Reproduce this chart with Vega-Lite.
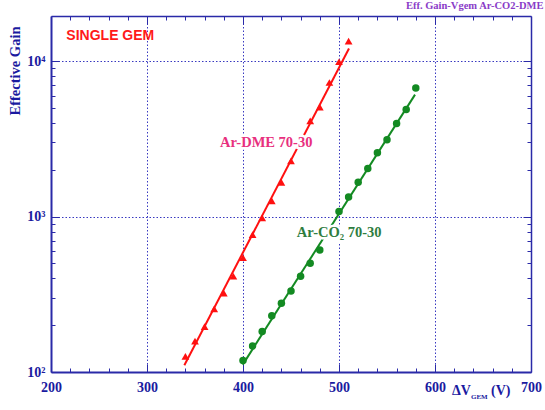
{
  "$schema": "https://vega.github.io/schema/vega-lite/v6.json",
  "width": 480,
  "height": 356,
  "autosize": {"type": "none"},
  "padding": {"left": 51, "top": 16, "right": 14, "bottom": 38},
  "background": "white",
  "title": {"text": "Eff. Gain-Vgem Ar-CO2-DME", "anchor": "end", "font": "Liberation Serif", "fontSize": 10.5, "fontWeight": "bold", "color": "#8a3cc8", "offset": 4, "dx": 2},
  "config": {"view": {"stroke": null}},
  "datasets": {
    "pts": [
      {"gas": "Ar-DME 70-30", "V": 340, "gain": 126},
      {"gas": "Ar-DME 70-30", "V": 350, "gain": 158},
      {"gas": "Ar-DME 70-30", "V": 360, "gain": 196},
      {"gas": "Ar-DME 70-30", "V": 370, "gain": 255},
      {"gas": "Ar-DME 70-30", "V": 380, "gain": 322},
      {"gas": "Ar-DME 70-30", "V": 390, "gain": 413},
      {"gas": "Ar-DME 70-30", "V": 400, "gain": 544},
      {"gas": "Ar-DME 70-30", "V": 410, "gain": 764},
      {"gas": "Ar-DME 70-30", "V": 420, "gain": 981},
      {"gas": "Ar-DME 70-30", "V": 430, "gain": 1263},
      {"gas": "Ar-DME 70-30", "V": 440, "gain": 1660},
      {"gas": "Ar-DME 70-30", "V": 450, "gain": 2280},
      {"gas": "Ar-DME 70-30", "V": 470, "gain": 4121},
      {"gas": "Ar-DME 70-30", "V": 480, "gain": 5060},
      {"gas": "Ar-DME 70-30", "V": 490, "gain": 7280},
      {"gas": "Ar-DME 70-30", "V": 500, "gain": 9900},
      {"gas": "Ar-DME 70-30", "V": 510, "gain": 13450},
      {"gas": "Ar-CO2 70-30", "V": 400, "gain": 118.5},
      {"gas": "Ar-CO2 70-30", "V": 410, "gain": 147},
      {"gas": "Ar-CO2 70-30", "V": 420, "gain": 182},
      {"gas": "Ar-CO2 70-30", "V": 430, "gain": 230},
      {"gas": "Ar-CO2 70-30", "V": 440, "gain": 277},
      {"gas": "Ar-CO2 70-30", "V": 450, "gain": 332},
      {"gas": "Ar-CO2 70-30", "V": 460, "gain": 413},
      {"gas": "Ar-CO2 70-30", "V": 470, "gain": 500},
      {"gas": "Ar-CO2 70-30", "V": 480, "gain": 610},
      {"gas": "Ar-CO2 70-30", "V": 500, "gain": 1076},
      {"gas": "Ar-CO2 70-30", "V": 510, "gain": 1334},
      {"gas": "Ar-CO2 70-30", "V": 520, "gain": 1660},
      {"gas": "Ar-CO2 70-30", "V": 530, "gain": 2036},
      {"gas": "Ar-CO2 70-30", "V": 540, "gain": 2573},
      {"gas": "Ar-CO2 70-30", "V": 550, "gain": 3124},
      {"gas": "Ar-CO2 70-30", "V": 560, "gain": 3968},
      {"gas": "Ar-CO2 70-30", "V": 570, "gain": 4890},
      {"gas": "Ar-CO2 70-30", "V": 580, "gain": 6715}
    ],
    "fit": [
      {"gas": "Ar-DME 70-30", "V": 338.9, "gain": 110.4},
      {"gas": "Ar-DME 70-30", "V": 510.4, "gain": 12035},
      {"gas": "Ar-CO2 70-30", "V": 399.7, "gain": 111.5},
      {"gas": "Ar-CO2 70-30", "V": 579.2, "gain": 6083}
    ]
  },
  "resolve": {"axis": {"x": "independent", "y": "independent"}},
  "layer": [
    {
      "data": {"name": "fit"},
      "mark": {"type": "line", "strokeWidth": 2},
      "encoding": {
        "x": {"field": "V", "type": "quantitative", "scale": {"domain": [200, 700], "nice": false},
          "axis": {"orient": "top", "values": [200,220,240,260,280,300,320,340,360,380,400,420,440,460,480,500,520,540,560,580,600,620,640,660,680,700],
            "labels": false, "grid": false, "title": null, "domainColor": "#2a2aa8", "domainWidth": 1.5, "tickColor": "#2a2aa8", "tickWidth": 1,
            "tickSize": {"condition": {"test": "datum.value % 100 === 0", "value": -8}, "value": -4}}},
        "y": {"field": "gain", "type": "quantitative", "scale": {"type": "log", "domain": [100, 19500], "nice": false},
          "axis": {"orient": "right", "values": [100,200,300,400,500,600,700,800,900,1000,2000,3000,4000,5000,6000,7000,8000,9000,10000],
            "labels": false, "grid": false, "title": null, "domainColor": "#2a2aa8", "domainWidth": 1.5, "tickColor": "#2a2aa8", "tickWidth": 1,
            "tickSize": {"condition": {"test": "datum.value === 100 || datum.value === 1000 || datum.value === 10000", "value": -8}, "value": -4}}},
        "color": {"field": "gas", "type": "nominal", "scale": {"domain": ["Ar-DME 70-30", "Ar-CO2 70-30"], "range": ["#ff1010", "#138a22"]}, "legend": null}
      }
    },
    {
      "data": {"name": "pts"},
      "mark": {"type": "point", "filled": true, "opacity": 1},
      "encoding": {
        "x": {"field": "V", "type": "quantitative", "scale": {"domain": [200, 700], "nice": false},
          "axis": {"orient": "bottom", "values": [200,220,240,260,280,300,320,340,360,380,400,420,440,460,480,500,520,540,560,580,600,620,640,660,680,700],
            "labelExpr": "datum.value % 100 === 0 ? datum.value : ''",
            "labelFont": "Liberation Serif", "labelFontWeight": "bold", "labelFontSize": 14, "labelColor": "#1a1aa0", "labelPadding": 16,
            "labelFlush": false, "labelOverlap": false,
            "title": null, "domainColor": "#2a2aa8", "domainWidth": 2, "tickColor": "#2a2aa8", "tickWidth": 1,
            "tickSize": {"condition": {"test": "datum.value % 100 === 0", "value": -8}, "value": -4},
            "grid": true, "gridColor": "#3838c0", "gridDash": [1.5, 2], "gridWidth": 1,
            "gridOpacity": {"condition": {"test": "datum.value % 100 === 0 && datum.value > 200 && datum.value < 700", "value": 1}, "value": 0}}},
        "y": {"field": "gain", "type": "quantitative", "scale": {"type": "log", "domain": [100, 19500], "nice": false},
          "axis": {"orient": "left", "values": [100,200,300,400,500,600,700,800,900,1000,2000,3000,4000,5000,6000,7000,8000,9000,10000],
            "labelExpr": "datum.value === 100 ? '10²' : datum.value === 1000 ? '10³' : datum.value === 10000 ? '10⁴' : ''",
            "labelFont": "Liberation Serif", "labelFontWeight": "bold", "labelFontSize": 14, "labelColor": "#1a1aa0", "labelPadding": 14,
            "labelFlush": false, "labelOverlap": false, "labelBaseline": "middle",
            "title": "Effective Gain", "titleFont": "Liberation Serif", "titleFontWeight": "bold", "titleFontSize": 14.5, "titleColor": "#1a1aa0",
            "titleAnchor": "end", "titleAlign": "right", "titleBaseline": "middle", "titleAngle": -90, "titleX": -36, "titleY": 10,
            "domainColor": "#2a2aa8", "domainWidth": 2, "tickColor": "#2a2aa8", "tickWidth": 1,
            "tickSize": {"condition": {"test": "datum.value === 100 || datum.value === 1000 || datum.value === 10000", "value": -8}, "value": -4},
            "grid": true, "gridColor": "#3838c0", "gridDash": [1.5, 2], "gridWidth": 1,
            "gridOpacity": {"condition": {"test": "datum.value === 1000 || datum.value === 10000", "value": 1}, "value": 0}}},
        "shape": {"field": "gas", "type": "nominal", "scale": {"domain": ["Ar-DME 70-30", "Ar-CO2 70-30"], "range": ["triangle-up", "circle"]}, "legend": null},
        "color": {"field": "gas", "type": "nominal", "scale": {"domain": ["Ar-DME 70-30", "Ar-CO2 70-30"], "range": ["#ff1010", "#138a22"]}, "legend": null},
        "size": {"field": "gas", "type": "nominal", "scale": {"domain": ["Ar-DME 70-30", "Ar-CO2 70-30"], "range": [60, 56]}, "legend": null}
      }
    },
    {
      "data": {"values": [{}]},
      "mark": {"type": "text", "text": "Ar-DME 70-30", "font": "Liberation Serif", "fontWeight": "bold", "fontSize": 14.5, "align": "left", "baseline": "alphabetic", "fill": "white", "stroke": "white", "strokeWidth": 5},
      "encoding": {"x": {"datum": 376, "type": "quantitative", "axis": null}, "y": {"datum": 2786, "type": "quantitative", "axis": null}}
    },
    {
      "data": {"values": [{}]},
      "mark": {"type": "text", "text": "Ar-DME 70-30", "font": "Liberation Serif", "fontWeight": "bold", "fontSize": 14.5, "align": "left", "baseline": "alphabetic", "fill": "#e8307e"},
      "encoding": {"x": {"datum": 376, "type": "quantitative", "axis": null}, "y": {"datum": 2786, "type": "quantitative", "axis": null}}
    },
    {
      "data": {"values": [{}]},
      "mark": {"type": "text", "text": "Ar-CO₂ 70-30", "font": "Liberation Serif", "fontWeight": "bold", "fontSize": 14.5, "align": "left", "baseline": "alphabetic", "fill": "white", "stroke": "white", "strokeWidth": 5},
      "encoding": {"x": {"datum": 456, "type": "quantitative", "axis": null}, "y": {"datum": 743, "type": "quantitative", "axis": null}}
    },
    {
      "data": {"values": [{}]},
      "mark": {"type": "text", "text": "Ar-CO₂ 70-30", "font": "Liberation Serif", "fontWeight": "bold", "fontSize": 14.5, "align": "left", "baseline": "alphabetic", "fill": "#2f7d3f"},
      "encoding": {"x": {"datum": 456, "type": "quantitative", "axis": null}, "y": {"datum": 743, "type": "quantitative", "axis": null}}
    },
    {
      "data": {"values": [{}]},
      "mark": {"type": "text", "text": "SINGLE GEM", "font": "Liberation Sans", "fontWeight": "bold", "fontSize": 14, "align": "left", "baseline": "alphabetic", "fill": "#ff1a1a"},
      "encoding": {"x": {"datum": 216, "type": "quantitative", "axis": null}, "y": {"datum": 13600, "type": "quantitative", "axis": null}}
    },
    {
      "data": {"values": [{}]},
      "mark": {"type": "text", "text": "ΔV", "font": "Liberation Serif", "fontWeight": "bold", "fontSize": 14, "align": "left", "baseline": "alphabetic", "fill": "#1a1aa0", "dx": -79, "dy": 23},
      "encoding": {"x": {"datum": 700, "type": "quantitative", "axis": null}, "y": {"datum": 100, "type": "quantitative", "axis": null}}
    },
    {
      "data": {"values": [{}]},
      "mark": {"type": "text", "text": "GEM", "font": "Liberation Serif", "fontWeight": "bold", "fontSize": 7, "align": "left", "baseline": "alphabetic", "fill": "#1a1aa0", "dx": -60, "dy": 27},
      "encoding": {"x": {"datum": 700, "type": "quantitative", "axis": null}, "y": {"datum": 100, "type": "quantitative", "axis": null}}
    },
    {
      "data": {"values": [{}]},
      "mark": {"type": "text", "text": "(V)", "font": "Liberation Serif", "fontWeight": "bold", "fontSize": 14, "align": "left", "baseline": "alphabetic", "fill": "#1a1aa0", "dx": -40, "dy": 23},
      "encoding": {"x": {"datum": 700, "type": "quantitative", "axis": null}, "y": {"datum": 100, "type": "quantitative", "axis": null}}
    }
  ]
}
